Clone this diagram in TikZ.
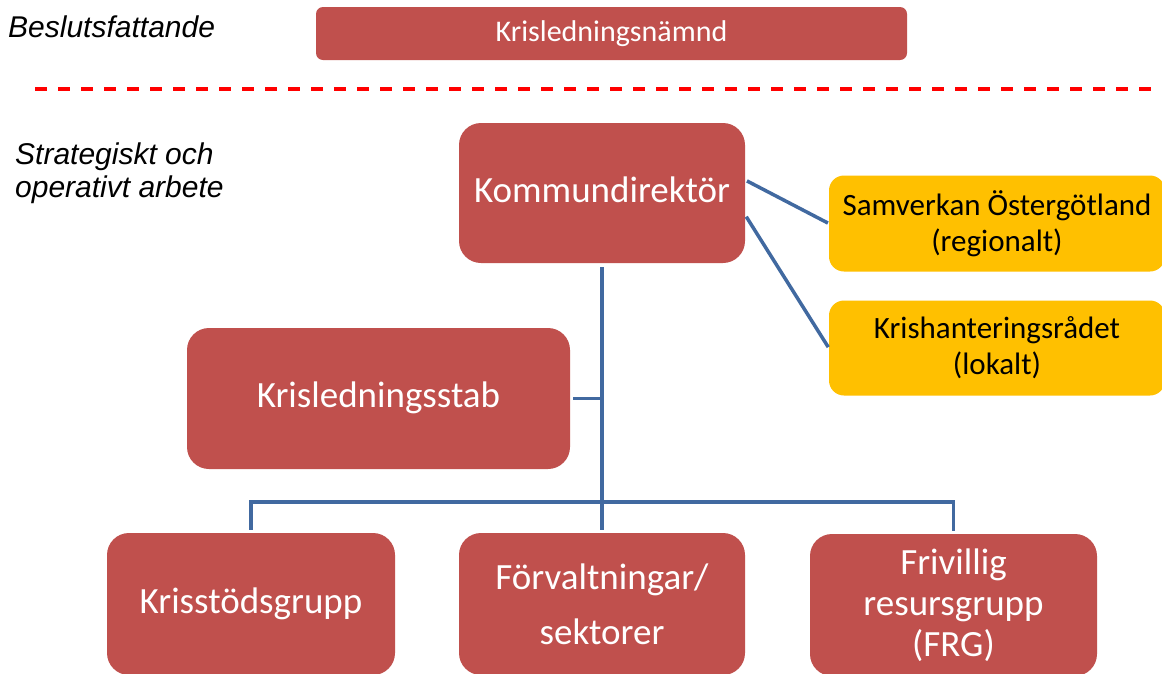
\documentclass[tikz,border=0pt]{standalone}
\usepackage{fontspec}
\setmainfont{Carlito}
\newfontfamily\arialfont{Liberation Sans}
\definecolor{boxred}{RGB}{192,80,77}
\definecolor{boxyellow}{RGB}{255,192,0}
\definecolor{linkblue}{RGB}{65,105,160}
\definecolor{dashred}{RGB}{255,0,0}
\tikzset{
  redbox/.style={fill=boxred, draw=none, text=white, align=center, inner sep=0pt,
    rounded corners=22pt, font=\fontsize{37}{41}\selectfont},
  yellowbox/.style={fill=boxyellow, draw=none, text=black, align=center, inner sep=0pt,
    rounded corners=15pt},
  oneline/.style={text height=26pt, text depth=8pt},
  smallline/.style={text height=21pt, text depth=6pt},
  link/.style={draw=linkblue, line width=3.5pt},
  sidelabel/.style={anchor=base west, inner sep=0pt, align=left,
    font=\arialfont\itshape\fontsize{30}{33}\selectfont},
  separator/.style={draw=dashred, line width=3.5pt, dash pattern=on 12pt off 11pt}
}
\begin{document}
\begin{tikzpicture}[x=1pt,y=-1pt]
\useasboundingbox (0,0) rectangle (1162,673);
\clip (0,0) rectangle (1162,673);
\fill[white] (0,0) rectangle (1162,673);

% labels
\node[sidelabel] (lbl1) at (8,37) {Beslutsfattande};
\node[sidelabel] (lbl2) at (15,197) {Strategiskt och\\operativt arbete};

% separator
\coordinate (sepL) at (35,89);
\coordinate (sepR) at (1162,89);
\draw[separator] (sepL) -- (sepR);

% boxes
\node[redbox, smallline, rounded corners=7pt, minimum width=591pt, minimum height=53pt,
      font=\fontsize{30}{36}\selectfont] (namnd) at (611.5,33.5) {Krisledningsnämnd};
\node[redbox, oneline, minimum width=286pt, minimum height=140pt] (kd) at (602,193) {Kommundirektör};
\node[yellowbox, minimum width=336pt, minimum height=96pt,
      font=\fontsize{31}{36}\selectfont] (sam) at (997,223.5) {Samverkan Östergötland\\(regionalt)};
\node[yellowbox, minimum width=336pt, minimum height=95pt,
      font=\fontsize{31}{36}\selectfont] (kh) at (997,348) {Krishanteringsrådet\\(lokalt)};
\node[redbox, oneline, minimum width=383pt, minimum height=141pt] (stab) at (378.5,398.5) {Krisledningsstab};
\node[redbox, oneline, minimum width=288pt, minimum height=142pt] (ks) at (251,604) {Krisstödsgrupp};
\node[redbox, minimum width=286pt, minimum height=142pt] (forv) at (602,604) {Förvaltningar/\\[14pt]sektorer};
\node[redbox, minimum width=287pt, minimum height=142pt] (frg) at (953.5,605) {Frivillig\\resursgrupp\\(FRG)};

% connectors
\draw[link, shorten <=4pt, shorten >=3pt] (kd.south) -- (forv.north);
\coordinate (stabjoin) at (kd.south |- stab.east);
\draw[link, shorten <=3pt] (stab.east) -- (stabjoin);
\draw[link, shorten <=3pt, shorten >=3pt] (ks.north) -- ++(0,-31) -| (frg.north);
\draw[link, shorten <=2pt, shorten >=1pt] ([yshift=13pt]kd.east) -- (sam.west);
\draw[link, shorten <=2pt, shorten >=1pt] ([yshift=-22pt]kd.east) -- (kh.west);
\end{tikzpicture}
\end{document}
